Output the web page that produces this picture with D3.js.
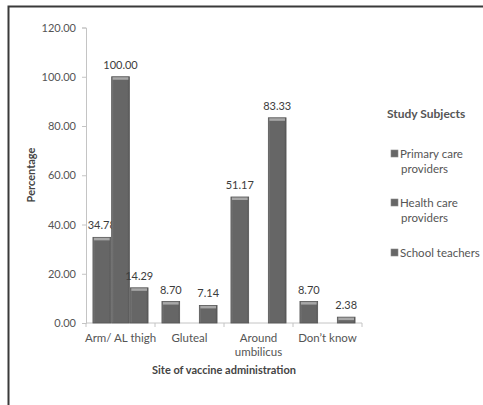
<!DOCTYPE html>
<html>
<head>
<meta charset="utf-8">
<script src="https://cdn.jsdelivr.net/npm/d3@7"></script>
<style>
  html, body { margin: 0; padding: 0; background: #fff; }
  svg { display: block; font-family: Lato, "Open Sans", sans-serif; }
</style>
</head>
<body>
<svg id="chart" width="483" height="405"></svg>
<script>
// Site of vaccine administration, percentage by study group
const categories = ["Arm/ AL thigh", "Gluteal", "Around umbilicus", "Don\u2019t know"];
const seriesNames = ["Primary care providers", "Health care providers", "School teachers"];
const primaryCare = [34.78, 8.70, 51.17, 8.70];
const healthCare = [100.00, null, null, null];
const schoolTeachers = [14.29, 7.14, 83.33, 2.38];
const yTicks = [0, 20, 40, 60, 80, 100, 120];

const seriesValues = [primaryCare, healthCare, schoolTeachers];

const svg = d3.select("#chart");

// frame around the chart (top and left edges)
svg.append("path")
  .attr("d", "M8.5,405 L8.5,6.5 L483,6.5")
  .attr("fill", "none").attr("stroke", "#3a3a3a").attr("stroke-width", 2);

const defs = svg.append("defs");
const grad = defs.append("linearGradient").attr("id", "barFill")
  .attr("x1", "0").attr("x2", "1").attr("y1", "0").attr("y2", "0");
grad.append("stop").attr("offset", "0%").attr("stop-color", "#7a7a7a");
grad.append("stop").attr("offset", "12%").attr("stop-color", "#666");
grad.append("stop").attr("offset", "88%").attr("stop-color", "#666");
grad.append("stop").attr("offset", "100%").attr("stop-color", "#5a5a5a");

const y = d3.scaleLinear().domain([0, 120]).range([323, 27.5]);
const x0 = d3.scaleBand().domain(categories).range([86, 362]).paddingInner(0).paddingOuter(0);
const x1 = d3.scaleBand().domain(seriesNames).range([0, x0.bandwidth()])
  .paddingInner(0).paddingOuter(0.345);

// y axis
const yAxis = svg.append("g").attr("transform", "translate(86,0)")
  .call(d3.axisLeft(y).tickValues(yTicks).tickSize(4).tickPadding(6)
    .tickFormat(d => d.toFixed(2)));
yAxis.select(".domain").attr("stroke", "#c4c4c4");
yAxis.selectAll(".tick line").attr("stroke", "#c4c4c4");
yAxis.selectAll(".tick text").attr("fill", "#555").style("font-size", "11px")
  .style("font-family", "Lato, sans-serif");

// x axis baseline with ticks at category boundaries
const xAxisG = svg.append("g");
xAxisG.append("line").attr("x1", 86).attr("x2", 362).attr("y1", y(0)).attr("y2", y(0))
  .attr("stroke", "#c4c4c4");
const bounds = categories.map(c => x0(c)).concat([x0.range()[1]]);
xAxisG.selectAll("line.tk").data(bounds).join("line").attr("class", "tk")
  .attr("x1", d => d).attr("x2", d => d).attr("y1", y(0)).attr("y2", y(0) + 4)
  .attr("stroke", "#c4c4c4");

// category labels (wrapped where needed)
const catLines = { "Around umbilicus": ["Around", "umbilicus"] };
categories.forEach(c => {
  const lines = catLines[c] || [c];
  const t = svg.append("text").attr("text-anchor", "middle")
    .attr("fill", "#555").style("font-size", "11.5px");
  lines.forEach((ln, i) => {
    t.append("tspan").attr("x", x0(c) + x0.bandwidth() / 2)
      .attr("y", 342 + i * 14).text(ln);
  });
});

// bars
const groups = svg.append("g").selectAll("g").data(categories).join("g")
  .attr("transform", c => `translate(${x0(c)},0)`);

seriesNames.forEach((s, si) => {
  const vals = seriesValues[si];
  groups.each(function(c, ci) {
    const v = vals[ci];
    if (v == null) return;
    const g = d3.select(this);
    const bx = x1(s), bw = x1.bandwidth();
    g.append("rect").attr("x", bx + 0.5).attr("y", y(v))
      .attr("width", bw - 1).attr("height", y(0) - y(v))
      .attr("fill", "url(#barFill)").attr("stroke", "#555").attr("stroke-width", 0.8);
    // light bevel on top
    g.append("rect").attr("x", bx + 1.5).attr("y", y(v) + 0.5)
      .attr("width", bw - 3).attr("height", 2.5).attr("fill", "#a8a8a8");
    g.append("text").attr("x", bx + bw / 2).attr("y", y(v) - 8)
      .attr("text-anchor", "middle").attr("fill", "#3c3c3c")
      .style("font-size", "11px").text(v.toFixed(2));
  });
});

// axis titles
svg.append("text").attr("transform", "translate(35,175) rotate(-90)")
  .attr("text-anchor", "middle").attr("fill", "#444")
  .style("font-size", "11px").style("font-weight", "bold").text("Percentage");
svg.append("text").attr("x", 224).attr("y", 374).attr("text-anchor", "middle")
  .attr("fill", "#444").style("font-size", "11px").style("font-weight", "bold")
  .text("Site of vaccine administration");

// legend
const legend = svg.append("g");
legend.append("text").attr("x", 387).attr("y", 118).attr("fill", "#555")
  .style("font-size", "12px").style("font-weight", "bold").text("Study Subjects");
const legendLines = [["Primary care", "providers"], ["Health care", "providers"], ["School teachers"]];
const legendY = [158, 207, 257];
seriesNames.forEach((s, i) => {
  legend.append("rect").attr("x", 391).attr("y", legendY[i] - 8)
    .attr("width", 7).attr("height", 7).attr("fill", "#666").attr("stroke", "#888")
    .attr("stroke-width", 0.6);
  const t = legend.append("text").attr("fill", "#555").style("font-size", "11.5px");
  legendLines[i].forEach((ln, j) => {
    t.append("tspan").attr("x", j === 0 ? 400 : 401).attr("y", legendY[i] + j * 15).text(ln);
  });
});
</script>
</body>
</html>
